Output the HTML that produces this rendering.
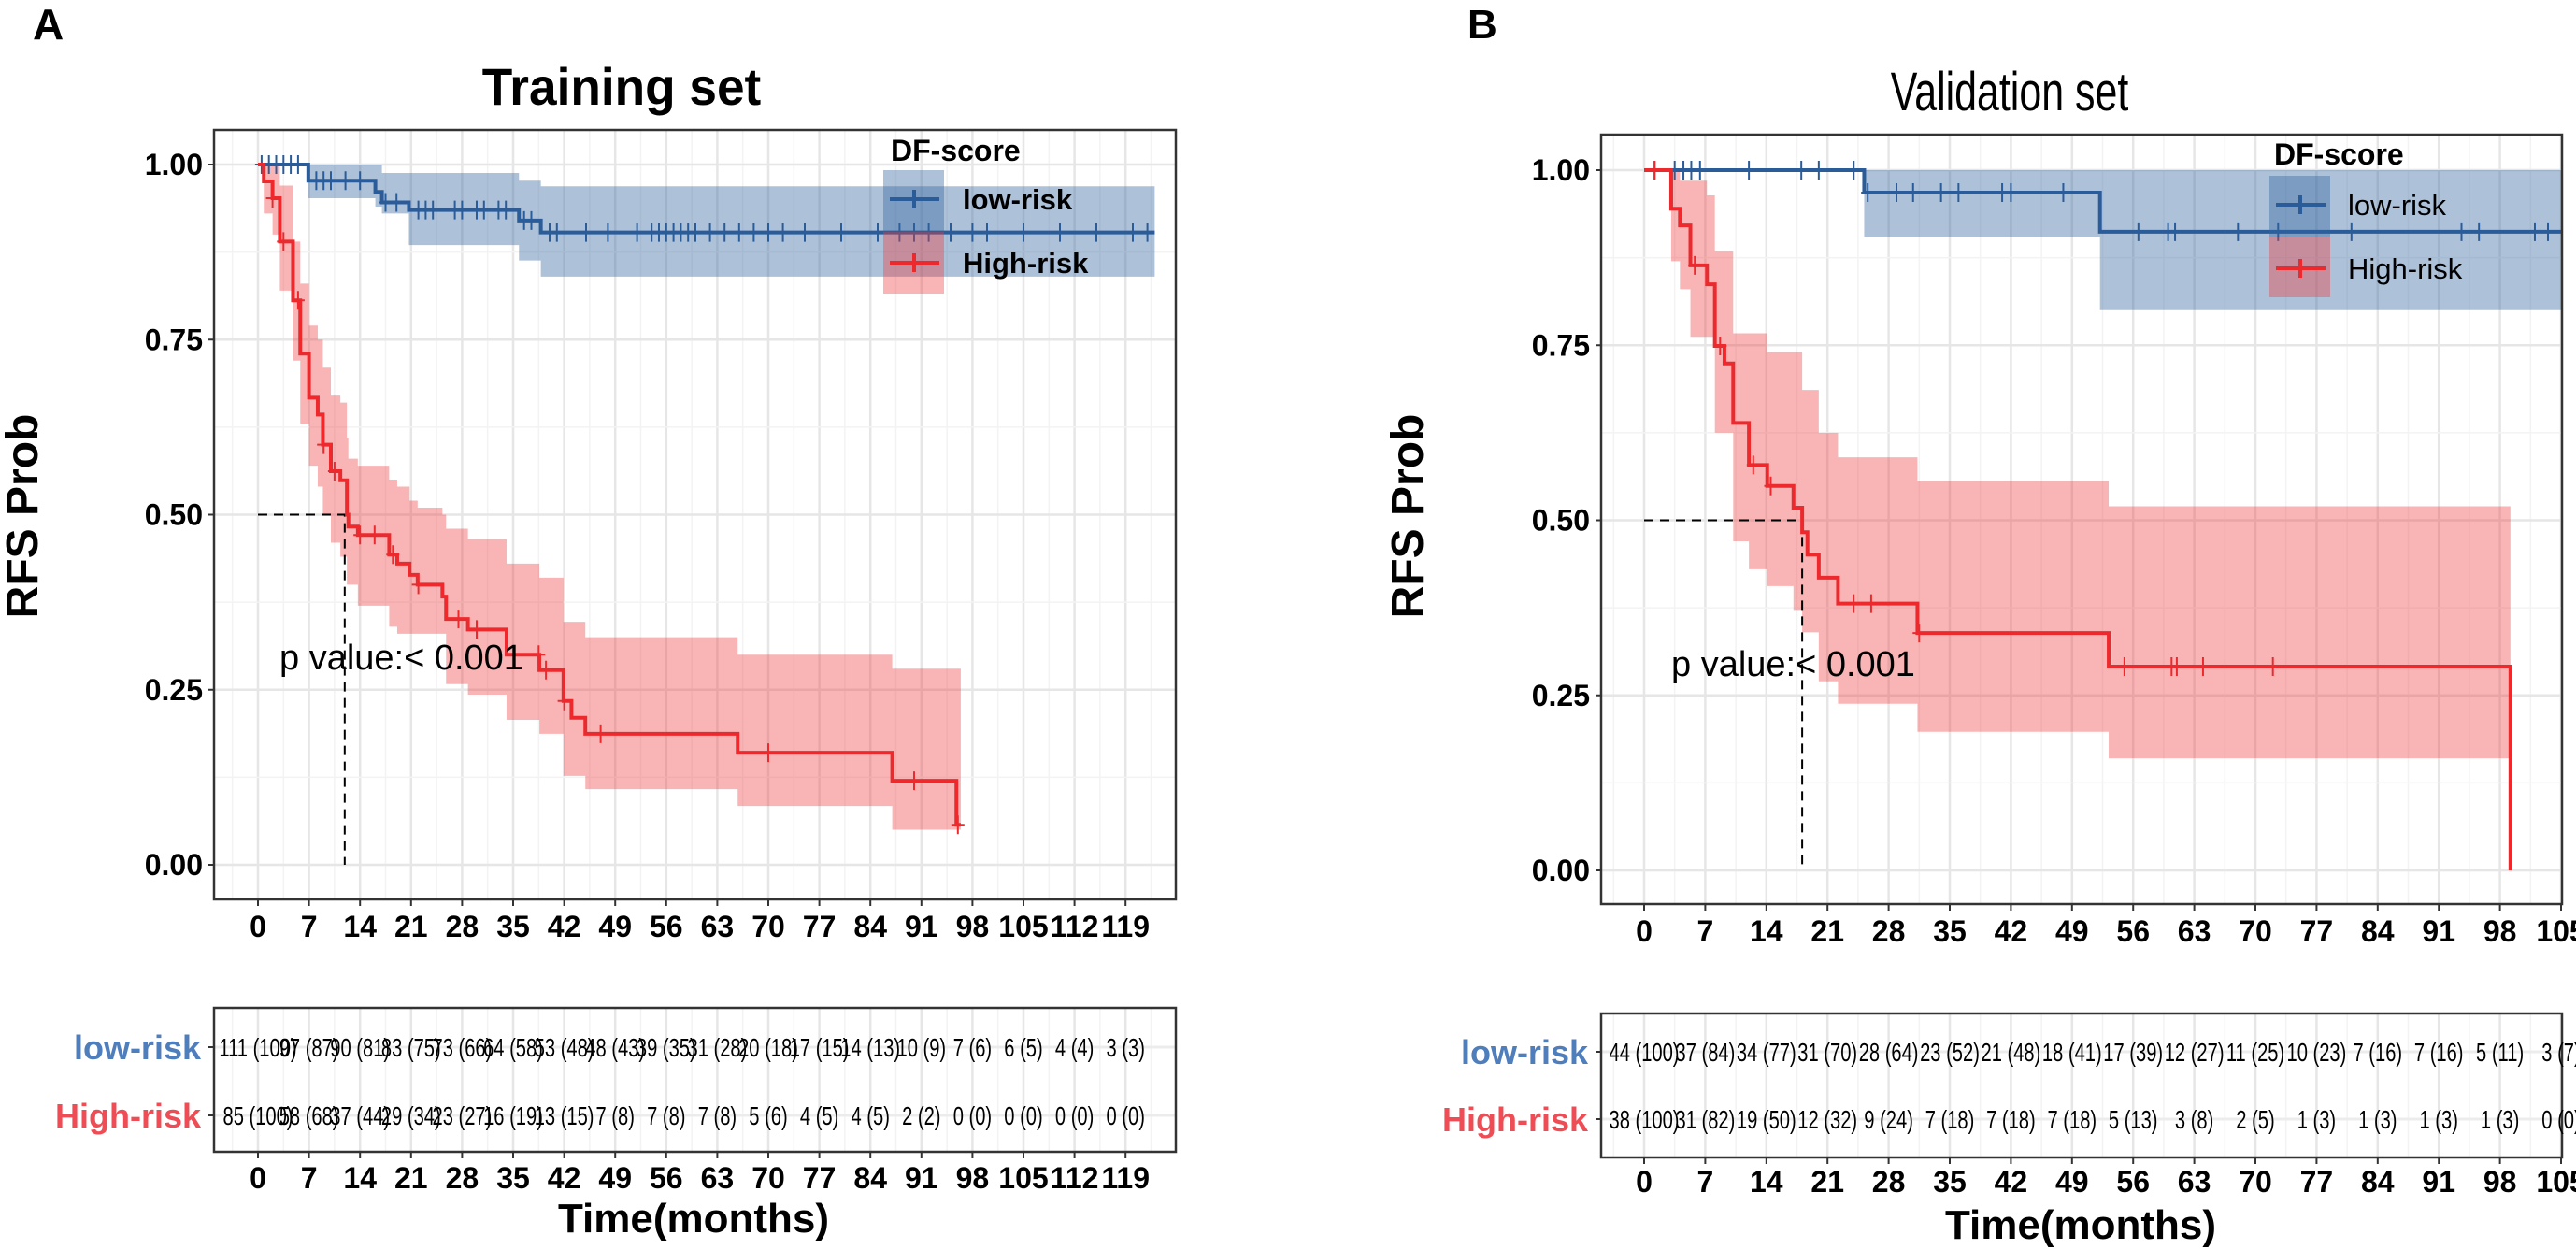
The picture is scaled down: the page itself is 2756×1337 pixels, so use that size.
<!DOCTYPE html>
<html><head><meta charset="utf-8"><style>
html,body{margin:0;padding:0;background:#fff;}
svg{display:block;font-family:"Liberation Sans",Arial,sans-serif;}
</style></head><body>
<svg id="fig" width="2756" height="1337" viewBox="0 0 2756 1337" xmlns="http://www.w3.org/2000/svg">
<rect width="2756" height="1337" fill="#fff"/>
<text x="35" y="42" font-size="46" font-weight="bold">A</text>
<text x="1570" y="41" font-size="44" font-weight="bold">B</text>
<text transform="translate(665,112) scale(0.95,1)" font-size="56" font-weight="bold" text-anchor="middle">Training set</text>
<text transform="translate(2150,118) scale(0.74,1)" font-size="58" text-anchor="middle">Validation set</text>
<text transform="translate(40,552) rotate(-90)" font-size="48" font-weight="bold" text-anchor="middle">RFS Prob</text>
<text transform="translate(1522,552) rotate(-90)" font-size="48" font-weight="bold" text-anchor="middle">RFS Prob</text>
<text x="742" y="1318" font-size="44" font-weight="bold" text-anchor="middle">Time(months)</text>
<text x="2226" y="1325" font-size="44" font-weight="bold" text-anchor="middle">Time(months)</text>
</svg>
<script>
// ---------- data: Training set ----------
const trainLowTimes = [0, 6.9, 16.1, 17, 20.7, 35.8, 38.8];
const trainLowSurv  = [1, 0.977, 0.961, 0.946, 0.935, 0.92, 0.903];
const trainLowLower = [1, 0.952, 0.94, 0.93, 0.885, 0.863, 0.84];
const trainLowUpper = [1, 1, 1, 0.988, 0.988, 0.977, 0.969];
const trainLowEnd = 123;
const trainLowCensor = [0.5,1.5,2.5,3.5,4.5,5.5,8,9,10,12,14,17.5,19,22,23,24,27,28,30,31,33,34,36.5,37.5,40,41,45,48,52,54,55,56,57,58,59,60,62,64,66,68,70,72,75,80,85,88,90,92,95,98,100,105,110,115,120,122];

const trainHighTimes = [0,0.8,2,3,4.8,5.8,7,8.2,8.9,10,11.3,12.2,12.4,13.7,18,19.1,20.8,21.9,25.3,25.8,28.8,34.1,38.6,41.9,43,44.9,65.8,87,95.8];
const trainHighSurv  = [1,0.976,0.952,0.89,0.806,0.73,0.667,0.643,0.60,0.562,0.549,0.50,0.483,0.471,0.443,0.43,0.414,0.40,0.383,0.351,0.336,0.30,0.278,0.234,0.21,0.187,0.16,0.12,0.057];
const trainHighLower = [1,0.93,0.90,0.82,0.72,0.63,0.57,0.54,0.50,0.46,0.44,0.40,0.40,0.37,0.34,0.33,0.33,0.33,0.33,0.258,0.243,0.207,0.187,0.127,0.127,0.108,0.084,0.05,0.05];
const trainHighUpper = [1,1,1,0.97,0.89,0.83,0.77,0.75,0.71,0.67,0.66,0.61,0.58,0.57,0.55,0.54,0.52,0.51,0.50,0.48,0.465,0.43,0.41,0.347,0.347,0.325,0.30,0.28,0.28];
const trainHighEnd = 96.4;
const trainHighCensor = [2,3.5,5.5,9,10.5,14,16,18.5,22,27.5,30,38.5,39.5,42,47,70,90,96];
const trainMedian = 11.9;

const trainTicks = [0,7,14,21,28,35,42,49,56,63,70,77,84,91,98,105,112,119];
const trainRiskLow  = ["111 (100)","97 (87)","90 (81)","83 (75)","73 (66)","64 (58)","53 (48)","48 (43)","39 (35)","31 (28)","20 (18)","17 (15)","14 (13)","10 (9)","7 (6)","6 (5)","4 (4)","3 (3)"];
const trainRiskHigh = ["85 (100)","58 (68)","37 (44)","29 (34)","23 (27)","16 (19)","13 (15)","7 (8)","7 (8)","7 (8)","5 (6)","4 (5)","4 (5)","2 (2)","0 (0)","0 (0)","0 (0)","0 (0)"];

// ---------- data: Validation set ----------
const validLowTimes = [0, 25.2, 52.2];
const validLowSurv  = [1, 0.968, 0.912];
const validLowLower = [1, 0.905, 0.80];
const validLowUpper = [1, 1, 1];
const validLowEnd = 105;
const validLowCensor = [1.2,3.5,4.5,5.4,6.4,12,18,20,24,25.6,28.9,30.8,34,36,41,42,48,56.6,60,60.8,68,72.6,81,93.6,95.6,102,103.5];

const validHighTimes = [0,3.1,4.1,5.3,7.2,8.1,9.2,10.2,12,14.1,17.1,18.1,18.7,20,22.2,31.3,53.2,99.2];
const validHighSurv  = [1,0.945,0.921,0.864,0.837,0.749,0.724,0.639,0.579,0.549,0.518,0.483,0.451,0.418,0.381,0.339,0.291,0];
const validHighLower = [1,0.87,0.83,0.762,0.762,0.625,0.625,0.47,0.43,0.406,0.372,0.34,0.34,0.27,0.238,0.198,0.16,0];
const validHighUpper = [1,1,0.985,0.985,0.964,0.884,0.884,0.767,0.767,0.74,0.74,0.686,0.686,0.625,0.59,0.556,0.52,0];
const validHighEnd = 99.2;
const validHighCensor = [1.2,5.8,8.7,12.5,14.5,24,26,31.5,55,60.4,61,64,72];
const validMedian = 18.1;

const validTicks = [0,7,14,21,28,35,42,49,56,63,70,77,84,91,98,105];
const validRiskLow  = ["44 (100)","37 (84)","34 (77)","31 (70)","28 (64)","23 (52)","21 (48)","18 (41)","17 (39)","12 (27)","11 (25)","10 (23)","7 (16)","7 (16)","5 (11)","3 (7)"];
const validRiskHigh = ["38 (100)","31 (82)","19 (50)","12 (32)","9 (24)","7 (18)","7 (18)","7 (18)","5 (13)","3 (8)","2 (5)","1 (3)","1 (3)","1 (3)","1 (3)","0 (0)"];

const yTickValues = [0, 0.25, 0.5, 0.75, 1];
const yTickLabels = ["0.00","0.25","0.50","0.75","1.00"];

// ---------- drawing ----------
const NS = "http://www.w3.org/2000/svg";
const svg = document.getElementById('fig');
function mk(tag, attrs, parent) {
  const el = document.createElementNS(NS, tag);
  for (const k in attrs) el.setAttribute(k, attrs[k]);
  (parent || svg).appendChild(el);
  return el;
}
function tag(el, name, inter) {
  
  
  return el;
}
const BLUE = "#2a5c9a", RED = "#ec2a2e";
const BLUE_BAND = "rgba(50,100,160,0.40)", RED_BAND = "rgba(238,60,60,0.38)";

function drawPanel(P) {
  const X = t => P.tx0 + t * P.ppm;
  const Y = s => P.sy0 - s * (P.sy0 - P.sy1);
  const tMin = (P.x0 - P.tx0) / P.ppm, tMax = (P.x1 - P.tx0) / P.ppm;
  const g = tag(mk('g', {}), P.id + '-plot', 'false');
  for (let t = -3.5; t <= tMax; t += 3.5) {
    if (t < tMin) continue;
    const major = Math.abs(t / 7 - Math.round(t / 7)) < 1e-6;
    tag(mk('line', {x1: X(t), x2: X(t), y1: P.y0, y2: P.y1, stroke: major ? '#e6e6e6' : '#f3f3f3', 'stroke-width': major ? 2.5 : 1.5}, g), 'grid-v', 'false');
  }
  for (let s = 0; s <= 1.0001; s += 0.125) {
    const major = Math.abs(s * 4 - Math.round(s * 4)) < 1e-6;
    tag(mk('line', {x1: P.x0, x2: P.x1, y1: Y(s), y2: Y(s), stroke: major ? '#e6e6e6' : '#f3f3f3', 'stroke-width': major ? 2.5 : 1.5}, g), 'grid-h', 'false');
  }
  function band(times, lower, upper, end, fill, name) {
    let d = '';
    for (let i = 0; i < times.length; i++) {
      const a = times[i], b = i + 1 < times.length ? times[i + 1] : end;
      if (b <= a) continue;
      d += `M${X(a)},${Y(upper[i])}H${X(b)}V${Y(lower[i])}H${X(a)}Z`;
    }
    tag(mk('path', {d: d, fill: fill, stroke: 'none'}, g), name, 'false');
  }
  band(P.low.times, P.low.lower, P.low.upper, P.low.end, BLUE_BAND, 'low-risk-ci-band');
  band(P.high.times, P.high.lower, P.high.upper, P.high.end, RED_BAND, 'high-risk-ci-band');
  tag(mk('path', {d: `M${X(0)},${Y(0.5)}H${X(P.median)}V${Y(0)}`, fill: 'none', stroke: '#000', 'stroke-width': 2, 'stroke-dasharray': '10,7'}, g), 'median-line', 'false');
  function survAt(times, surv, t) { let v = surv[0]; for (let i = 0; i < times.length; i++) if (times[i] <= t) v = surv[i]; return v; }
  function curve(c, color, name) {
    let d = `M${X(c.times[0])},${Y(c.surv[0])}`;
    for (let i = 1; i < c.times.length; i++) d += `H${X(c.times[i])}V${Y(c.surv[i])}`;
    d += `H${X(c.end)}`;
    tag(mk('path', {d: d, fill: 'none', stroke: color, 'stroke-width': 4}, g), name, 'false');
    c.censor.forEach(t => {
      const s = survAt(c.times, c.surv, t);
      tag(mk('path', {d: `M${X(t)},${Y(s) - 10}V${Y(s) + 10}M${X(t) - 7},${Y(s)}H${X(t) + 7}`, stroke: color, 'stroke-width': 2, fill: 'none'}, g), name + '-censor', 'false');
    });
  }
  curve(P.low, BLUE, 'low-risk-curve');
  curve(P.high, RED, 'high-risk-curve');
  tag(mk('rect', {x: P.x0, y: P.y0, width: P.x1 - P.x0, height: P.y1 - P.y0, fill: 'none', stroke: '#333', 'stroke-width': 2.5}, g), 'plot-border', 'false');
  yTickValues.forEach((v, i) => {
    tag(mk('line', {x1: P.x0 - 6, x2: P.x0, y1: Y(v), y2: Y(v), stroke: '#333', 'stroke-width': 2}, g), 'y-tick', 'false');
    const t = tag(mk('text', {x: P.x0 - 12, y: Y(v) + 11, 'font-size': 32, 'font-weight': 'bold', 'text-anchor': 'end'}, g), 'y-tick-label', 'false');
    t.textContent = yTickLabels[i];
  });
  P.ticks.forEach(v => {
    tag(mk('line', {x1: X(v), x2: X(v), y1: P.y1, y2: P.y1 + 7, stroke: '#333', 'stroke-width': 2}, g), 'x-tick', 'false');
    const t = tag(mk('text', {x: X(v), y: P.y1 + 40, 'font-size': 32, 'font-weight': 'bold', 'text-anchor': 'middle'}, g), 'x-tick-label', 'false');
    t.textContent = v;
  });
  const pv = tag(mk('text', {x: P.pX, y: P.pY, 'font-size': 38}, g), 'p-value-label', 'false');
  pv.textContent = 'p value:< 0.001';
  const L = P.legend;
  const lg = tag(mk('g', {}, g), 'legend', 'false');
  const lt = tag(mk('text', {x: L.x, y: L.titleY, 'font-size': 32, 'font-weight': 'bold'}, lg), 'legend-title', 'false');
  lt.textContent = 'DF-score';
  tag(mk('rect', {x: L.boxX, y: L.boxY, width: 65, height: L.half, fill: BLUE_BAND}, lg), 'legend-key-low-band', 'false');
  tag(mk('rect', {x: L.boxX, y: L.boxY + L.half, width: 65, height: L.half, fill: RED_BAND}, lg), 'legend-key-high-band', 'false');
  [[L.lowY, BLUE, 'low-risk', 'legend-entry-low-risk'], [L.highY, RED, 'High-risk', 'legend-entry-high-risk']].forEach(e => {
    tag(mk('path', {d: `M${L.boxX + 7},${e[0]}H${L.boxX + 60}M${L.boxX + 33},${e[0] - 10}V${e[0] + 10}`, stroke: e[1], 'stroke-width': 4, fill: 'none'}, lg), e[3] + '-key', 'false');
    const tt = tag(mk('text', {x: L.textX, y: e[0] + 11, 'font-size': 31, 'font-weight': L.bold ? 'bold' : 'normal'}, lg), e[3], 'false');
    tt.textContent = e[2];
  });
  const T = P.table;
  const tg = tag(mk('g', {}), P.id + '-risk-table', 'false');
  for (let t = -3.5; t <= tMax; t += 3.5) {
    if (t < tMin) continue;
    const major = Math.abs(t / 7 - Math.round(t / 7)) < 1e-6;
    tag(mk('line', {x1: X(t), x2: X(t), y1: T.top, y2: T.bottom, stroke: major ? '#e6e6e6' : '#f3f3f3', 'stroke-width': major ? 2.5 : 1.5}, tg), 'table-grid-v', 'false');
  }
  [T.rowLow, T.rowHigh].forEach(r => tag(mk('line', {x1: P.x0, x2: P.x1, y1: r, y2: r, stroke: '#ececec', 'stroke-width': 3}, tg), 'table-grid-h', 'false'));
  tag(mk('rect', {x: P.x0, y: T.top, width: P.x1 - P.x0, height: T.bottom - T.top, fill: 'none', stroke: '#333', 'stroke-width': 2.5}, tg), 'table-border', 'false');
  [[T.rowLow, P.riskLow, '#4f7ebc', 'low-risk'], [T.rowHigh, P.riskHigh, '#ef4d55', 'High-risk']].forEach(row => {
    const lab = tag(mk('text', {x: P.x0 - 14, y: row[0] + 13, 'font-size': 36, 'font-weight': 'bold', 'text-anchor': 'end', fill: row[2]}, tg), 'table-row-label', 'false');
    lab.textContent = row[3];
    tag(mk('line', {x1: P.x0 - 6, x2: P.x0, y1: row[0], y2: row[0], stroke: '#333', 'stroke-width': 2}, tg), 'table-y-tick', 'false');
    P.ticks.forEach((v, i) => {
      const tx = tag(mk('text', {transform: `translate(${X(v)},${row[0] + 10}) scale(0.72,1)`, 'font-size': 28, 'text-anchor': 'middle'}, tg), 'risk-count', 'false');
      tx.textContent = row[1][i];
    });
  });
  P.ticks.forEach(v => {
    tag(mk('line', {x1: X(v), x2: X(v), y1: T.bottom, y2: T.bottom + 7, stroke: '#333', 'stroke-width': 2}, tg), 'table-x-tick', 'false');
    const t = tag(mk('text', {x: X(v), y: T.tickBase, 'font-size': 32, 'font-weight': 'bold', 'text-anchor': 'middle'}, tg), 'table-x-tick-label', 'false');
    t.textContent = v;
  });
}

drawPanel({
  id: 'training', x0: 229, x1: 1258, y0: 139, y1: 962, tx0: 276, ppm: 7.8, sy1: 176, sy0: 925,
  ticks: trainTicks, median: trainMedian, pX: 299, pY: 716,
  low: {times: trainLowTimes, surv: trainLowSurv, lower: trainLowLower, upper: trainLowUpper, end: trainLowEnd, censor: trainLowCensor},
  high: {times: trainHighTimes, surv: trainHighSurv, lower: trainHighLower, upper: trainHighUpper, end: trainHighEnd, censor: trainHighCensor},
  riskLow: trainRiskLow, riskHigh: trainRiskHigh,
  legend: {x: 953, titleY: 172, boxX: 945, boxY: 182, half: 66, lowY: 213, highY: 281, textX: 1030, bold: true},
  table: {top: 1078, bottom: 1232, rowLow: 1120, rowHigh: 1193, tickBase: 1271}
});
drawPanel({
  id: 'validation', x0: 1713, x1: 2741, y0: 144, y1: 967, tx0: 1759, ppm: 9.343, sy1: 182, sy0: 931,
  ticks: validTicks, median: validMedian, pX: 1788, pY: 723,
  low: {times: validLowTimes, surv: validLowSurv, lower: validLowLower, upper: validLowUpper, end: validLowEnd, censor: validLowCensor},
  high: {times: validHighTimes, surv: validHighSurv, lower: validHighLower, upper: validHighUpper, end: validHighEnd, censor: validHighCensor},
  riskLow: validRiskLow, riskHigh: validRiskHigh,
  legend: {x: 2433, titleY: 176, boxX: 2428, boxY: 188, half: 65, lowY: 219, highY: 287, textX: 2512, bold: false},
  table: {top: 1084, bottom: 1238, rowLow: 1125, rowHigh: 1197, tickBase: 1275}
});
</script>
</body></html>
